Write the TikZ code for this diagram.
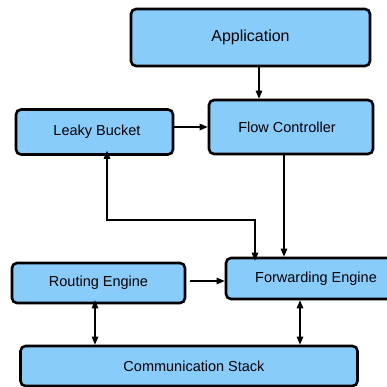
\documentclass[tikz,border=0pt]{standalone}
\usepackage{fontspec}
\setmainfont{Liberation Sans}
\usetikzlibrary{arrows.meta}
\definecolor{boxblue}{HTML}{88CCFC}
\tikzset{
  blk/.style={draw=black, fill=boxblue, line width=2.6pt, rounded corners=5pt, inner sep=0pt, font=\fontsize{14.5}{16}\selectfont},
  arr/.style={line width=1.3pt, -{Triangle[length=8pt,width=6.5pt]}},
  darr/.style={line width=1.3pt, {Triangle[length=8pt,width=6.5pt]}-{Triangle[length=8pt,width=6.5pt]}}
}
\begin{document}
\begin{tikzpicture}[x=1pt,y=-1pt]
\useasboundingbox (0,0) rectangle (386,387);
\node[blk, minimum width=239pt, minimum height=57pt, font=\fontsize{16}{18}\selectfont] (app) at (250.5,37.5) {Application};
\node[blk, minimum width=164pt, minimum height=54pt] (fc) at (291,127) {\hspace*{-8pt}Flow Controller};
\node[blk, minimum width=157pt, minimum height=45pt] (lb) at (94.5,132) {\hspace*{5pt}Leaky Bucket};
\node[blk, minimum width=173pt, minimum height=40pt] (re) at (98.5,283) {Routing Engine};
\node[blk, minimum width=180pt, minimum height=41pt] (fe) at (316,278.5) {Forwarding Engine};
\node[blk, minimum width=337pt, minimum height=40pt] (cs) at (189,366) {\hspace*{10pt}Communication Stack};
\coordinate (bend) at (107,220);
\draw[arr] (app.south -| 259,0) -- (fc.north -| 259,0);
\draw[arr] (lb.east |- 0,127) -- (fc.west |- 0,127);
\draw[darr] ([yshift=5pt]lb.south -| bend) |- (bend -| 255,0) -- ([yshift=-4pt]fe.north -| 255,0);
\draw[arr] (fc.south -| 284,0) -- (fe.north -| 284,0);
\draw[arr] ([xshift=4pt]re.east |- 0,281) -- (fe.west |- 0,281);
\draw[darr] ([yshift=4pt]re.south -| 95,0) -- (cs.north -| 95,0);
\draw[darr] (fe.south -| 300,0) -- (cs.north -| 300,0);
\end{tikzpicture}
\end{document}
